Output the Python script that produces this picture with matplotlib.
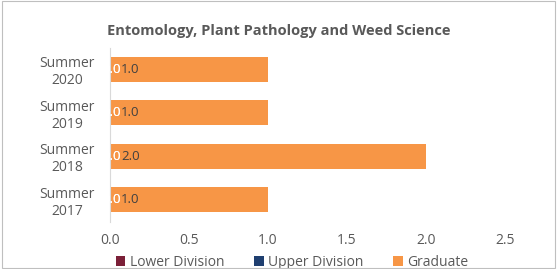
import matplotlib.pyplot as plt
from matplotlib.patches import Rectangle

years = ["Summer\n2017", "Summer\n2018", "Summer\n2019", "Summer\n2020"]
lower_division = [0.0, 0.0, 0.0, 0.0]
upper_division = [0.0, 0.0, 0.0, 0.0]
graduate = [1.0, 2.0, 1.0, 1.0]
xticks = [0.0, 0.5, 1.0, 1.5, 2.0, 2.5]

c_lower = "#7B2038"
c_upper = "#1F3F70"
c_grad = "#F79646"
text_gray = "#595959"

plt.rcParams["font.family"] = ["Open Sans", "DejaVu Sans"]

fig = plt.figure(figsize=(5.57, 2.69), dpi=100)
ax = fig.add_axes([0.1975, 0.1757, 0.709, 0.647])

y = range(len(years))
h = 0.575
ax.barh(y, lower_division, height=h, color=c_lower, label="Lower Division")
ax.barh(y, upper_division, height=h, left=lower_division, color=c_upper,
        label="Upper Division")
left_g = [a + b for a, b in zip(lower_division, upper_division)]
ax.barh(y, graduate, height=h, left=left_g, color=c_grad, label="Graduate")

# zero-value labels sit on the axis, graduate label at the inside base
for i in y:
    for v in (lower_division[i], upper_division[i]):
        ax.annotate(f"{v:.1f}", (0, i), xytext=(1, 0), textcoords="offset points",
                    ha="center", va="center", color="white", fontsize=9.5)
    ax.annotate(f"{graduate[i]:.1f}", (left_g[i], i), xytext=(8, 0),
                textcoords="offset points", ha="left", va="center",
                color="#404040", fontsize=9.5)

ax.set_xlim(0, 2.5)
ax.set_ylim(-0.5, 3.5)
ax.set_xticks(xticks)
ax.set_xticklabels([f"{t:.1f}" for t in xticks])
ax.set_yticks(list(y))
ax.set_yticklabels(years, ha="center", linespacing=1.15)
ax.tick_params(axis="y", length=0, pad=31, labelsize=10, colors=text_gray)
ax.tick_params(axis="x", length=0, pad=8, labelsize=10, colors=text_gray)
for s in ["top", "right", "bottom"]:
    ax.spines[s].set_visible(False)
ax.spines["left"].set_color("#D9D9D9")

fig.text(0.5, 0.885, "Entomology, Plant Pathology and Weed Science",
         ha="center", va="center", fontsize=10.5, fontweight="bold", color=text_gray)

ax.legend(loc="center", bbox_to_anchor=(0.524, 0.026), bbox_transform=fig.transFigure,
          ncol=3, frameon=False, fontsize=10, handlelength=0.7, handleheight=0.7,
          handletextpad=0.3, columnspacing=2.15, labelcolor=text_gray)

fig.patches.append(Rectangle((0.003, 0.004), 0.994, 0.992, transform=fig.transFigure,
                             fill=False, edgecolor="#BFBFBF", linewidth=0.8))

fig.savefig("out.png", dpi=100)
